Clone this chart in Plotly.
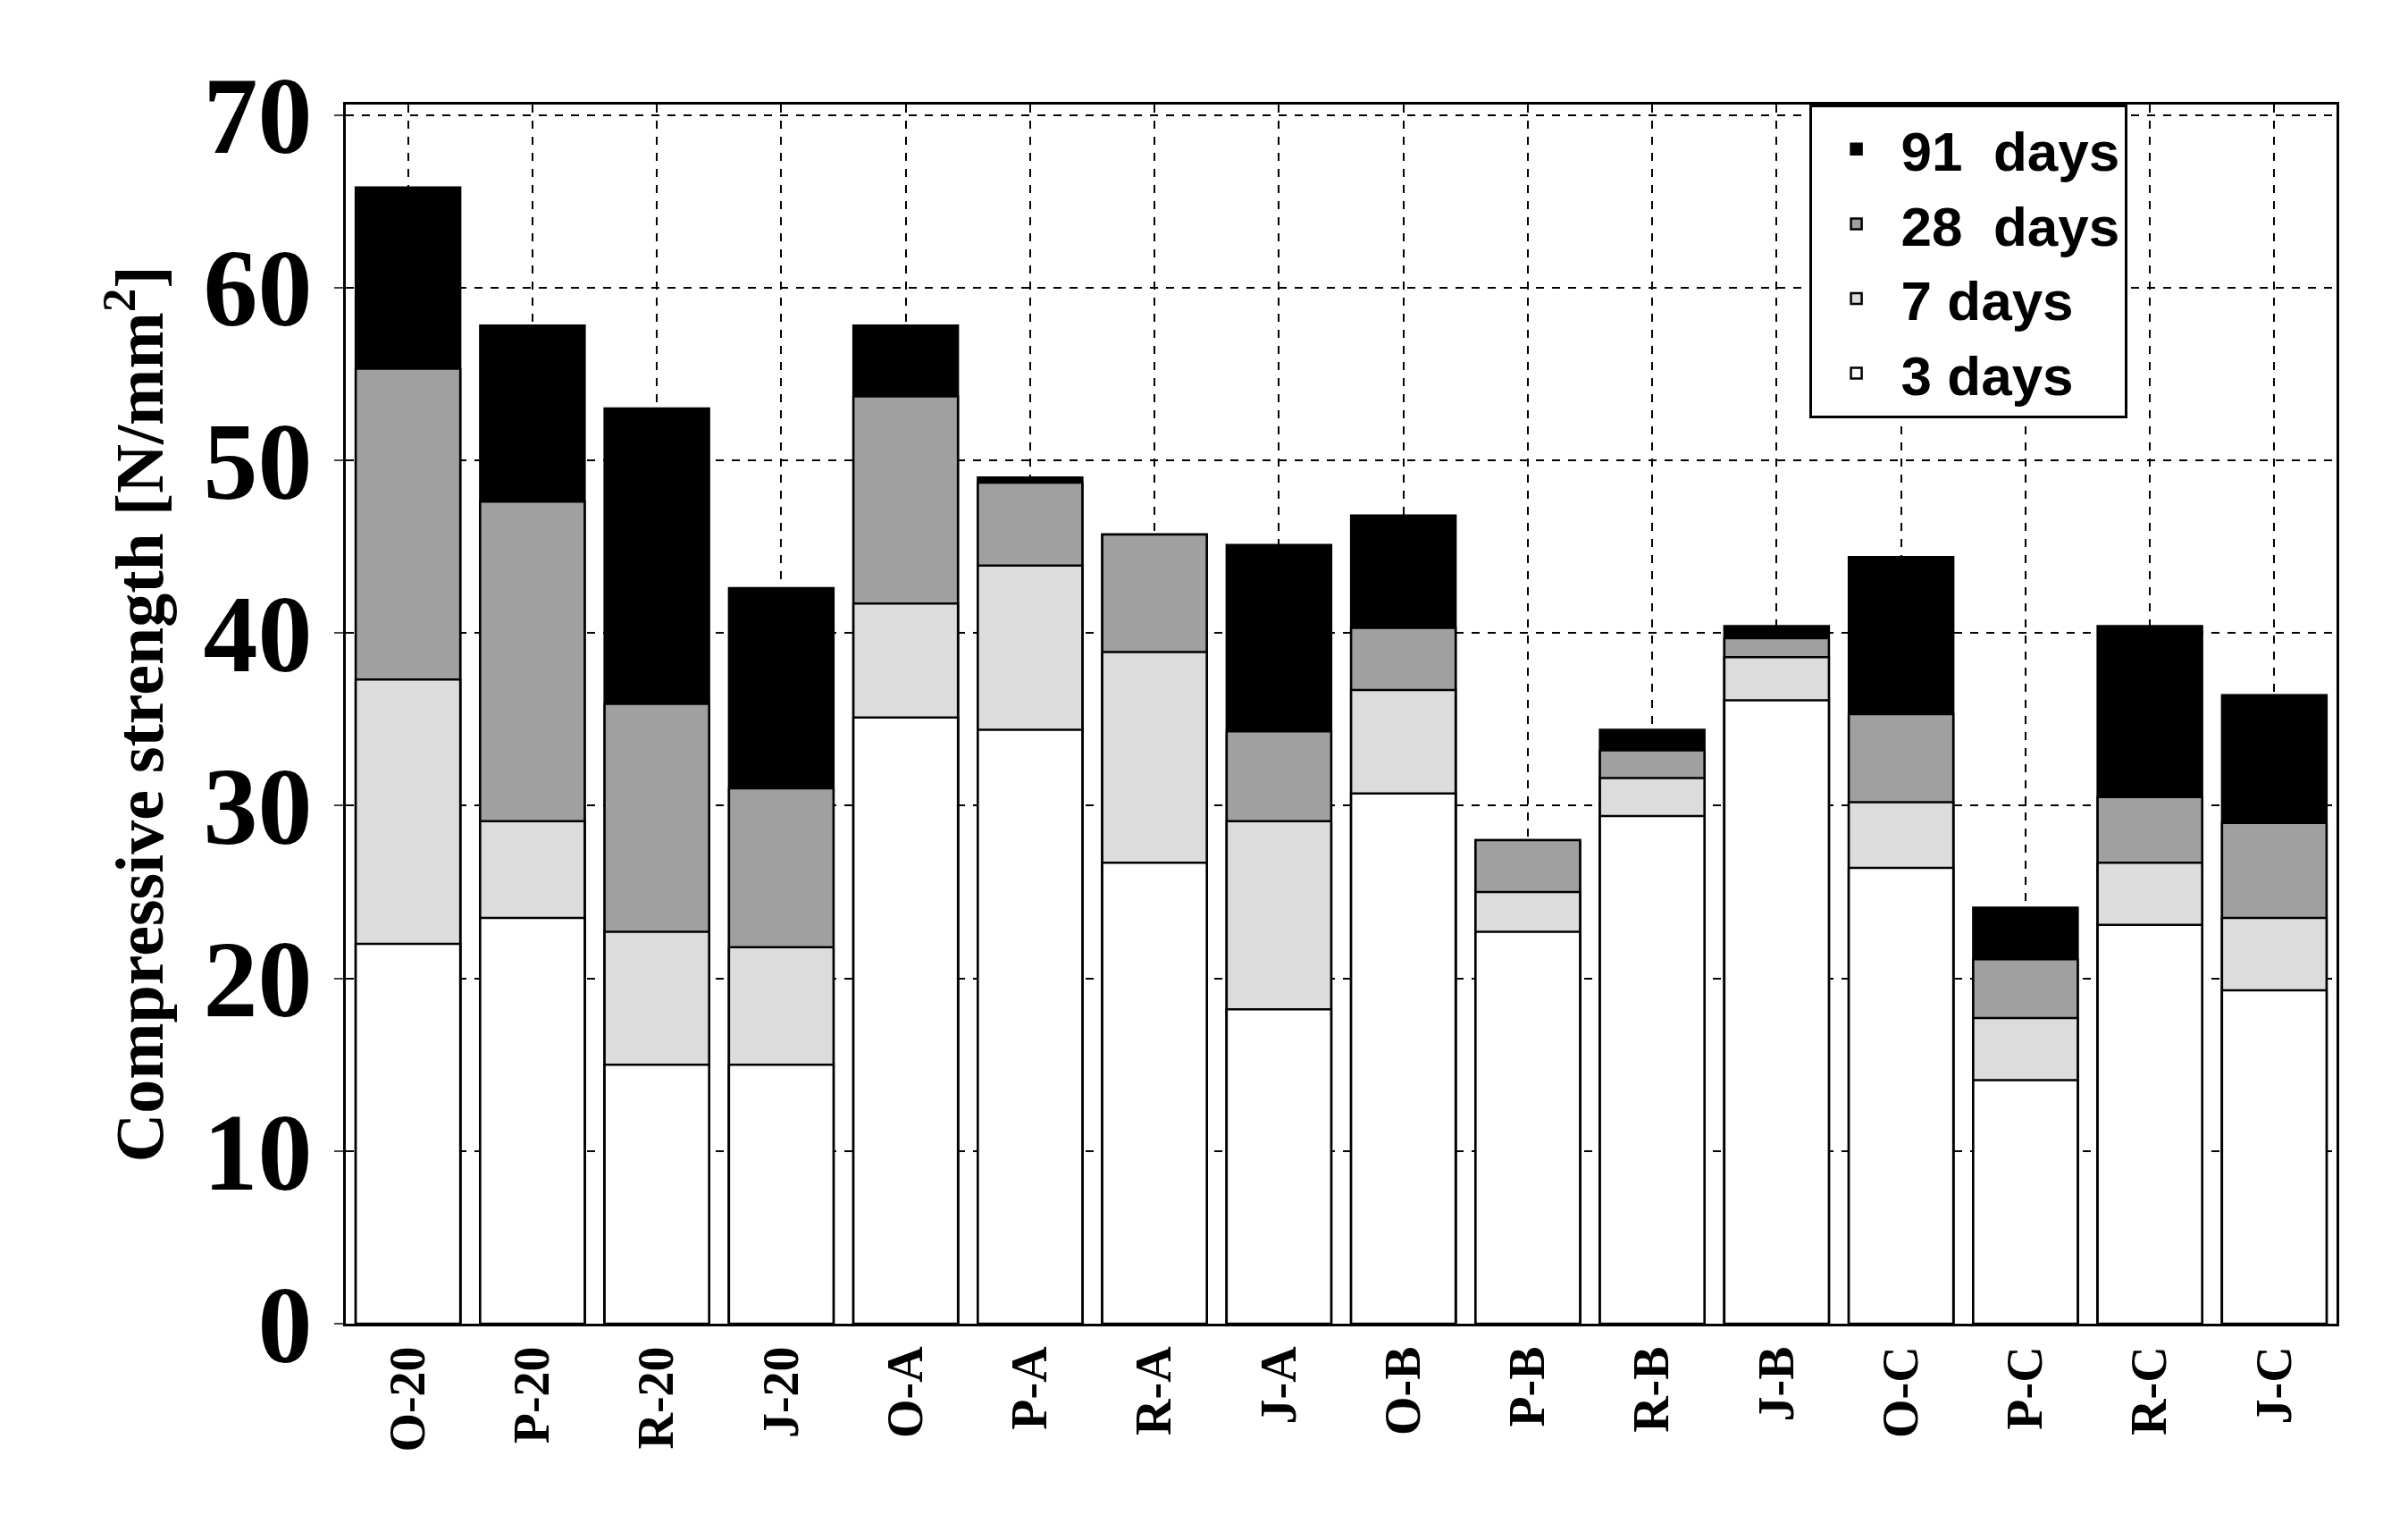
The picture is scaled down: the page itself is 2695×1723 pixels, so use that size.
import plotly.graph_objects as go

categories = ["O-20","P-20","R-20","J-20","O-A","P-A","R-A","J-A","O-B","P-B","R-B","J-B","O-C","P-C","R-C","J-C"]
# cumulative compressive strength at each age [N/mm2]
d3  = [22.0,23.5,15.0,15.0,35.1,34.4,26.7,18.2,30.7,22.7,29.4,36.1,26.4,14.1,23.1,19.3]
d7  = [37.3,29.1,22.7,21.8,41.7,43.9,38.9,29.1,36.7,25.0,31.6,38.6,30.2,17.7,26.7,23.5]
d28 = [55.3,47.6,35.9,31.0,53.7,48.7,45.7,34.3,40.3,28.0,33.2,39.7,35.3,21.1,30.5,29.0]
d91 = [65.8,57.8,53.0,42.6,57.8,49.0,45.7,45.1,46.8,28.0,34.4,40.4,44.4,24.1,40.4,36.4]
y_ticks = [0,10,20,30,40,50,60,70]

series = [("91  days", d91, "#000000"), ("28  days", d28, "#a0a0a0"),
          ("7 days", d7, "#dcdcdc"), ("3 days", d3, "#ffffff")]

fig = go.Figure()
for name, vals, col in series:
    fig.add_trace(go.Bar(x=categories, y=vals, name=name, width=0.84,
                         marker=dict(color=col, line=dict(color="black", width=2.5))))

fig.update_layout(
    width=2695, height=1723, barmode="overlay",
    plot_bgcolor="white", paper_bgcolor="white",
    margin=dict(l=379, r=88, t=109, b=250),
    font=dict(family="Liberation Serif", color="black"),
    legend=dict(x=0.735, y=1.0, xanchor="left", yanchor="top",
                bordercolor="black", borderwidth=3, bgcolor="white",
                font=dict(family="Liberation Sans", size=62, color="black", weight="bold"),
                traceorder="normal", itemwidth=90, tracegroupgap=0),
    yaxis=dict(range=[0, 70.6], tickvals=y_ticks, ticktext=[str(v) for v in y_ticks],
               tickfont=dict(size=122, family="Liberation Serif", weight="bold"),
               showgrid=True, gridcolor="black", griddash="dash", gridwidth=1.5,
               showline=True, linecolor="black", linewidth=3, mirror=True,
               ticks="outside", ticklen=10, tickwidth=2, zeroline=False,
               title=dict(text="<b>Compressive strength [N/mm<sup>2</sup>]</b>",
                          font=dict(size=76, family="Liberation Serif"), standoff=20)),
    xaxis=dict(tickangle=-90, tickfont=dict(size=56, family="Liberation Serif", weight="bold"),
               showgrid=True, gridcolor="black", griddash="dash", gridwidth=1.5,
               showline=True, linecolor="black", linewidth=3, mirror=True),
)
fig.write_html("out.html")
